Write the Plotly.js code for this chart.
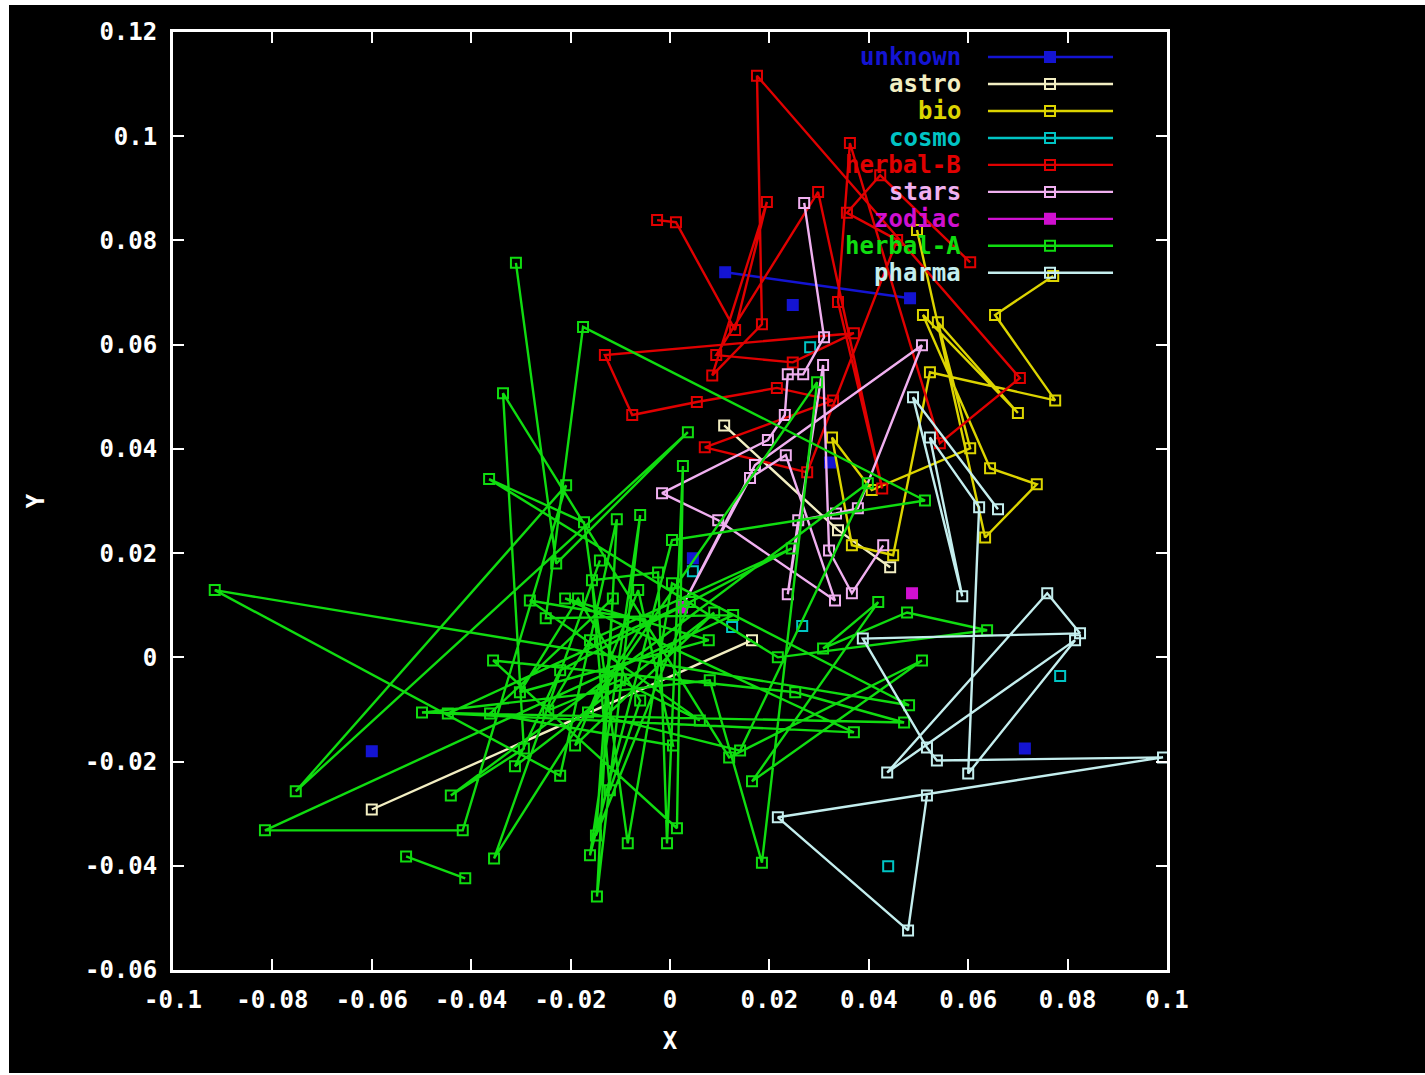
<!DOCTYPE html>
<html><head><meta charset="utf-8">
<script src="https://cdn.plot.ly/plotly-3.0.1.min.js"></script>
<style>
html,body{margin:0;padding:0;background:#ffffff;width:1425px;height:1075px;overflow:hidden}
#chart{position:absolute;left:9px;top:5px;width:1416px;height:1068px;background:#000}
</style></head>
<body><div id="chart"></div>
<script>
// ---- data ----
const seriesNames  = ['unknown','astro','bio','cosmo','herbal-B','stars','zodiac','herbal-A','pharma'];
const seriesColors = ['#1414d2','#f2eec2','#dcd400','#00c4c4','#e00000','#f0b0f0','#d010d0','#10dc10','#c4eeee'];

const unknownX = [0.0111, 0.0483, null, 0.0247, null, -0.0600, null, 0.0714, null, 0.0046, null, 0.0322];
const unknownY = [0.0739, 0.0689, null, 0.0676, null, -0.0180, null, -0.0175, null, 0.0190, null, 0.0374];

const astroX = [-0.0600, 0.0165, null, 0.0109, 0.0338, 0.0443];
const astroY = [-0.0292, 0.0033, null, 0.0445, 0.0244, 0.0173];

const bioX = [0.0497, 0.0634, 0.0738, 0.0644, 0.0509, 0.0700, 0.0539, 0.0604, 0.0406, 0.0326, 0.0366, 0.0449, 0.0523, 0.0775, 0.0654, 0.0771];
const bioY = [0.0820, 0.0230, 0.0332, 0.0363, 0.0657, 0.0469, 0.0643, 0.0401, 0.0321, 0.0422, 0.0215, 0.0196, 0.0547, 0.0493, 0.0657, 0.0732];

const cosmoX = [0.0282, null, 0.0046, null, 0.0125, null, 0.0266, null, 0.0439, null, 0.0785];
const cosmoY = [0.0595, null, 0.0165, null, 0.0058, null, 0.0060, null, -0.0401, null, -0.0036];

const herbalBX = [-0.0026, 0.0012, 0.0131, 0.0195, 0.0085, 0.0185, 0.0175, 0.0704, 0.0543, 0.0362, 0.0338, 0.0427, 0.0298, 0.0093, 0.0247, 0.0370, -0.0131, -0.0076, 0.0054, 0.0215, 0.0328, 0.0070, 0.0276, 0.0457, 0.0356, 0.0423, 0.0604];
const herbalBY = [0.0839, 0.0835, 0.0628, 0.0874, 0.0541, 0.0639, 0.1116, 0.0536, 0.0411, 0.0987, 0.0682, 0.0324, 0.0893, 0.0580, 0.0566, 0.0622, 0.0580, 0.0465, 0.0490, 0.0517, 0.0493, 0.0403, 0.0355, 0.0801, 0.0853, 0.0925, 0.0758];

const starsX = [0.0270, 0.0310, 0.0268, 0.0237, 0.0231, 0.0197, -0.0016, 0.0097, 0.0332, 0.0233, 0.0161, 0.0024, 0.0171, 0.0507, 0.0378, 0.0334, 0.0258, 0.0237, 0.0308, 0.0320, 0.0366, 0.0429];
const starsY = [0.0872, 0.0614, 0.0543, 0.0543, 0.0465, 0.0417, 0.0315, 0.0263, 0.0109, 0.0388, 0.0344, 0.0096, 0.0369, 0.0599, 0.0286, 0.0276, 0.0263, 0.0121, 0.0561, 0.0205, 0.0123, 0.0215];

const zodiacX = [0.0487, null, 0.0024];
const zodiacY = [0.0123, null, 0.0096];

const herbalAX = [-0.0310, -0.0229, 0.0036, -0.0753, -0.0209, -0.0417, -0.0815, 0.0127, -0.0250, -0.0175,
  0.0513, 0.0004, -0.0161, -0.0060, -0.0147, -0.0107, -0.0221, -0.0916, 0.0481, 0.0004,
  -0.0085, -0.0173, -0.0364, 0.0217, 0.0638, 0.0477, 0.0308, 0.0419, 0.0165, 0.0507,
  0.0119, -0.0336, -0.0294, -0.0441, 0.0398, 0.0141, -0.0165, 0.0296, 0.0185, 0.0080,
  -0.0499, 0.0471, 0.0252, -0.0356, 0.0014, 0.0026, -0.0006, -0.0024, -0.0157, -0.0121,
  -0.0060, -0.0185, -0.0302, 0.0078, -0.0211, 0.0370, -0.0447, 0.0040, -0.0149, -0.0115,
  -0.0362, 0.0006, -0.0064, -0.0191, 0.0089, -0.0312, -0.0221, 0.0245, -0.0161, -0.0245,
  -0.0101, 0.0060, -0.0282, -0.0050, -0.0354, -0.0141, null, -0.0531, -0.0412];
const herbalAY = [0.0757, 0.0180, 0.0432, -0.0257, 0.0330, -0.0332, -0.0332, 0.0081, 0.0075, 0.0634,
  0.0301, 0.0225, -0.0380, 0.0273, -0.0459, 0.0265, -0.0227, 0.0129, -0.0092, 0.0142,
  -0.0357, 0.0259, 0.0342, 0.0000, 0.0052, 0.0086, 0.0017, 0.0106, -0.0238, -0.0006,
  -0.0192, 0.0507, -0.0175, -0.0265, 0.0334, -0.0179, -0.0106, 0.0528, -0.0394, -0.0044,
  -0.0106, -0.0125, -0.0067, -0.0006, -0.0328, 0.0367, -0.0357, 0.0163, 0.0148, -0.0255,
  -0.0083, 0.0113, -0.0067, 0.0033, 0.0113, -0.0144, -0.0108, 0.0106, -0.0342, 0.0113,
  -0.0108, -0.0169, 0.0129, -0.0169, 0.0086, -0.0209, -0.0025, 0.0209, 0.0033, -0.0102,
  -0.0044, -0.0121, 0.0109, 0.0071, -0.0386, 0.0186, null, -0.0382, -0.0424];

const pharmaX = [0.0660, 0.0489, 0.0588, 0.0523, 0.0622, 0.0600, 0.0815, 0.0437, 0.0759, 0.0825, 0.0388, 0.0517, 0.0537, 0.0992, 0.0217, 0.0479, 0.0517];
const pharmaY = [0.0284, 0.0499, 0.0117, 0.0422, 0.0288, -0.0223, 0.0033, -0.0221, 0.0123, 0.0046, 0.0036, -0.0173, -0.0198, -0.0192, -0.0307, -0.0524, -0.0265];

const xTickVals = [-0.1, -0.08, -0.06, -0.04, -0.02, 0, 0.02, 0.04, 0.06, 0.08, 0.1];
const xTickText = ['-0.1', '-0.08', '-0.06', '-0.04', '-0.02', '0', '0.02', '0.04', '0.06', '0.08', '0.1'];
const yTickVals = [-0.06, -0.04, -0.02, 0, 0.02, 0.04, 0.06, 0.08, 0.1, 0.12];
const yTickText = ['-0.06', '-0.04', '-0.02', '0', '0.02', '0.04', '0.06', '0.08', '0.1', '0.12'];

// ---- build ----
const seriesX = [unknownX, astroX, bioX, cosmoX, herbalBX, starsX, zodiacX, herbalAX, pharmaX];
const seriesY = [unknownY, astroY, bioY, cosmoY, herbalBY, starsY, zodiacY, herbalAY, pharmaY];
const filled = {'unknown': true, 'zodiac': true};

const FONT = '"DejaVu Sans Mono", "Liberation Mono", monospace';

const traces = seriesNames.map((n, i) => ({
  type: 'scatter', mode: 'lines+markers', name: n,
  x: seriesX[i], y: seriesY[i], connectgaps: false, showlegend: false,
  line: {color: seriesColors[i], width: 2.4},
  marker: {symbol: filled[n] ? 'square' : 'square-open', size: 10,
           color: seriesColors[i], line: {color: seriesColors[i], width: 2}},
  hoverinfo: 'x+y+name'
}));

// custom gnuplot-style key (text right-aligned, sample to the right)
const keyTop = 0.9733, keyStep = 0.02875;
const annotations = [], shapes = [];
seriesNames.forEach((n, i) => {
  const yy = keyTop - i * keyStep;
  annotations.push({xref: 'paper', yref: 'paper', x: 0.7945, y: yy, xanchor: 'right', yanchor: 'middle',
    text: n, showarrow: false, font: {family: FONT, size: 24, color: seriesColors[i], weight: 'bold'}});
  shapes.push({type: 'line', xref: 'paper', yref: 'paper', x0: 0.8199, x1: 0.9457, y0: yy, y1: yy,
    line: {color: seriesColors[i], width: 2.4}});
  shapes.push({type: 'rect', xref: 'paper', yref: 'paper', xsizemode: 'pixel', ysizemode: 'pixel',
    xanchor: 0.8823, yanchor: yy, x0: -5, x1: 5, y0: -5, y1: 5,
    line: {color: seriesColors[i], width: 2},
    fillcolor: filled[n] ? seriesColors[i] : 'rgba(0,0,0,0)'});
});

const axisCommon = {
  showgrid: false, zeroline: false, showline: true, linecolor: '#ffffff', linewidth: 3,
  mirror: 'ticks', ticks: 'inside', ticklen: 11, tickwidth: 2, tickcolor: '#ffffff',
  tickfont: {family: FONT, size: 24, color: '#ffffff', weight: 'bold'}, tickmode: 'array'
};

const layout = {
  width: 1416, height: 1068,
  paper_bgcolor: '#000000', plot_bgcolor: '#000000',
  margin: {l: 164, r: 258, t: 27, b: 103},
  showlegend: false,
  xaxis: Object.assign({}, axisCommon, {range: [-0.1, 0.1], tickvals: xTickVals, ticktext: xTickText,
    ticklabelstandoff: 6,
    title: {text: 'X', standoff: 20, font: {family: FONT, size: 24, color: '#ffffff', weight: 'bold'}}}),
  yaxis: Object.assign({}, axisCommon, {range: [-0.06, 0.12], tickvals: yTickVals, ticktext: yTickText,
    ticklabelstandoff: 8,
    title: {text: 'Y', standoff: 34, font: {family: FONT, size: 24, color: '#ffffff', weight: 'bold'}}}),
  annotations: annotations,
  shapes: shapes
};

Plotly.newPlot('chart', traces, layout, {displayModeBar: false, staticPlot: true});
</script>
</body></html>
